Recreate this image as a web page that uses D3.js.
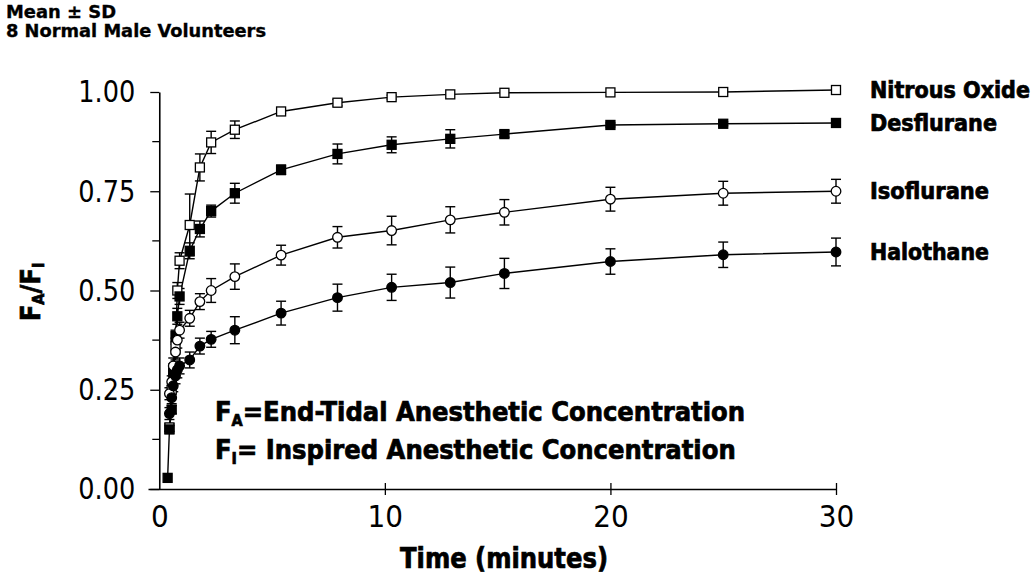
<!DOCTYPE html>
<html>
<head>
<meta charset="utf-8">
<script src="https://cdn.jsdelivr.net/npm/d3@7"></script>
<style>
    body { margin: 0; background: #fff; }
    svg { display: block; }
    .heavy {
        font-family: "Liberation Sans Narrow", "DejaVu Sans Condensed", "Arial Narrow", sans-serif;
        font-weight: bold;
        fill: #000;
        stroke: #000;
        stroke-width: 0.7;
    }
    .tick-label {
        font-family: "Liberation Sans Narrow", "DejaVu Sans Condensed", "Arial Narrow", sans-serif;
        fill: #000;
    }
</style>
</head>
<body>
<svg id="chart"></svg>
<script>
// time in minutes (shared sampling points)
const times = [0.37, 0.45, 0.55, 0.62, 0.72, 0.8, 0.9, 1.35, 1.8, 2.3, 3.35, 5.4, 7.9, 10.3, 12.9, 15.3, 20, 25, 30];

// FA/FI mean and SD per agent (null = no sample)
const nitrousOxide   = [null, 0.155, 0.25, 0.30, 0.36, 0.50, 0.575, 0.665, 0.81, 0.873, 0.905, 0.951, 0.973, 0.987, 0.994, 0.998, 0.999, 1.0, 1.005];
const nitrousOxideSD = [0, 0.01, 0.01, 0.015, 0.02, 0.02, 0.02, 0.078, 0.034, 0.028, 0.022, 0.005, 0.008, 0.005, 0.004, 0.003, 0.003, 0.004, 0.005];
const desflurane     = [0.028, 0.15, 0.20, 0.295, 0.385, 0.435, 0.485, 0.60, 0.655, 0.70, 0.745, 0.804, 0.844, 0.867, 0.882, 0.894, 0.917, 0.92, 0.922];
const desfluraneSD   = [0, 0.01, 0.01, 0.015, 0.015, 0.02, 0.02, 0.02, 0.02, 0.015, 0.025, 0.012, 0.025, 0.02, 0.023, 0.008, 0.005, 0.005, 0.005];
const isoflurane     = [null, 0.24, 0.27, 0.31, 0.345, 0.375, 0.40, 0.43, 0.472, 0.50, 0.535, 0.589, 0.634, 0.651, 0.678, 0.697, 0.730, 0.745, 0.75];
const isofluraneSD   = [0, 0.015, 0.015, 0.02, 0.02, 0.02, 0.02, 0.02, 0.02, 0.03, 0.032, 0.025, 0.027, 0.036, 0.033, 0.032, 0.030, 0.03, 0.03];
const halothane      = [null, 0.19, 0.23, 0.26, 0.285, 0.30, 0.31, 0.325, 0.36, 0.377, 0.40, 0.443, 0.482, 0.508, 0.52, 0.543, 0.573, 0.59, 0.597];
const halothaneSD    = [0, 0.015, 0.015, 0.015, 0.02, 0.02, 0.02, 0.02, 0.02, 0.02, 0.034, 0.03, 0.034, 0.033, 0.039, 0.038, 0.032, 0.032, 0.035];

const seriesNames = ['Nitrous Oxide', 'Desflurane', 'Isoflurane', 'Halothane'];
const xTicks = [0, 10, 20, 30];
const yTicks = [0, 0.25, 0.5, 0.75, 1];
const yTickLabels = ['0.00', '0.25', '0.50', '0.75', '1.00'];

const width = 1035;
const height = 577;

const svg = d3.select('#chart')
    .attr('width', width)
    .attr('height', height);

const x = d3.scaleLinear().domain([-0.5, 30]).range([148, 836]);
const y = d3.scaleLinear().domain([0, 1]).range([489, 92]);

// marker style per agent
const styles = [
    { shape: 'square', fill: '#fff', labelLen: 160 },
    { shape: 'square', fill: '#000', labelLen: 127 },
    { shape: 'circle', fill: '#fff', labelLen: 119 },
    { shape: 'circle', fill: '#000', labelLen: 119 }
];

const valueArrays = [nitrousOxide, desflurane, isoflurane, halothane];
const sdArrays = [nitrousOxideSD, desfluraneSD, isofluraneSD, halothaneSD];

const series = seriesNames.map((name, i) => ({
    name,
    style: styles[i],
    points: times.map((t, j) => ({ t, v: valueArrays[i][j], sd: sdArrays[i][j] }))
        .filter(d => d.v !== null)
}));

// axes
const xAxis = d3.axisBottom(x).tickValues(xTicks).tickSize(6).tickSizeOuter(0).tickFormat(d3.format('d'));
const gx = svg.append('g')
    .attr('transform', `translate(0,${y(0)})`)
    .call(xAxis);
gx.select('.domain').attr('stroke-width', 1.6);
gx.selectAll('.tick line').attr('y1', -6).attr('stroke-width', 1.3);
gx.selectAll('.tick').filter(d => d === 0).select('line').remove();
gx.selectAll('.tick text')
    .attr('class', 'tick-label')
    .attr('y', 16)
    .attr('font-size', 31)
    .attr('dy', '0.71em');

const yAxis = d3.axisLeft(y).tickValues(yTicks).tickSize(9).tickSizeOuter(0)
    .tickFormat((d, i) => yTickLabels[i]);
const gy = svg.append('g')
    .attr('transform', `translate(${x(0)},0)`)
    .call(yAxis);
gy.select('.domain').attr('stroke-width', 1.6);
gy.selectAll('.tick line').attr('stroke-width', 1.3);
gy.selectAll('.tick text')
    .attr('class', 'tick-label')
    .attr('x', -24)
    .attr('font-size', 31)
    .attr('textLength', 57)
    .attr('lengthAdjust', 'spacingAndGlyphs');

// minor y ticks
gy.selectAll('.minor')
    .data(d3.range(0.125, 1, 0.25))
    .enter().append('line')
    .attr('x1', -7).attr('x2', 0)
    .attr('y1', d => y(d)).attr('y2', d => y(d))
    .attr('stroke', '#000').attr('stroke-width', 1.3);

svg.selectAll('.domain, .tick line').attr('stroke', '#000');

// lines
const line = d3.line()
    .x(d => x(d.t))
    .y(d => y(d.v));

svg.append('g').selectAll('path')
    .data(series)
    .enter().append('path')
    .attr('d', d => line(d.points))
    .attr('fill', 'none')
    .attr('stroke', '#000')
    .attr('stroke-width', 1.4);

// error bars
const bars = svg.append('g').attr('stroke', '#000').attr('stroke-width', 1.4);
series.forEach(s => {
    s.points.filter(p => p.sd > 0.004).forEach(p => {
        const cx = x(p.t);
        bars.append('line')
            .attr('x1', cx).attr('x2', cx)
            .attr('y1', y(p.v + p.sd)).attr('y2', y(p.v - p.sd));
        [p.v + p.sd, p.v - p.sd].forEach(v => {
            bars.append('line')
                .attr('x1', cx - 5).attr('x2', cx + 5)
                .attr('y1', y(v)).attr('y2', y(v));
        });
    });
});

// markers
series.forEach(s => {
    const g = svg.append('g');
    if (s.style.shape === 'square') {
        g.selectAll('rect')
            .data(s.points)
            .enter().append('rect')
            .attr('x', d => x(d.t) - 4.5)
            .attr('y', d => y(d.v) - 4.5)
            .attr('width', 9)
            .attr('height', 9)
            .attr('fill', s.style.fill)
            .attr('stroke', '#000')
            .attr('stroke-width', 1.3);
    } else {
        g.selectAll('circle')
            .data(s.points)
            .enter().append('circle')
            .attr('cx', d => x(d.t))
            .attr('cy', d => y(d.v))
            .attr('r', 4.8)
            .attr('fill', s.style.fill)
            .attr('stroke', '#000')
            .attr('stroke-width', 1.3);
    }
});

// series labels at the right end
svg.append('g').selectAll('text')
    .data(series)
    .enter().append('text')
    .attr('class', 'heavy')
    .attr('x', 870)
    .attr('y', d => y(d.points[d.points.length - 1].v) + 8)
    .attr('font-size', 23)
    .attr('textLength', d => d.style.labelLen)
    .attr('lengthAdjust', 'spacingAndGlyphs')
    .text(d => d.name);

// header notes
svg.append('text')
    .attr('class', 'heavy')
    .attr('x', 6).attr('y', 18)
    .attr('font-size', 17)
    .style('stroke-width', 0.3)
    .attr('textLength', 110)
    .attr('lengthAdjust', 'spacingAndGlyphs')
    .text('Mean ± SD');

svg.append('text')
    .attr('class', 'heavy')
    .attr('x', 6).attr('y', 37)
    .attr('font-size', 17)
    .style('stroke-width', 0.3)
    .attr('textLength', 260)
    .attr('lengthAdjust', 'spacingAndGlyphs')
    .text('8 Normal Male Volunteers');

// axis titles
svg.append('text')
    .attr('class', 'heavy')
    .attr('x', 504).attr('y', 568)
    .attr('text-anchor', 'middle')
    .attr('font-size', 28)
    .attr('textLength', 208)
    .attr('lengthAdjust', 'spacingAndGlyphs')
    .text('Time (minutes)');

const yTitle = svg.append('text')
    .attr('class', 'heavy')
    .attr('transform', 'translate(40,292) rotate(-90)')
    .attr('text-anchor', 'middle')
    .attr('font-size', 27);
yTitle.append('tspan').text('F');
yTitle.append('tspan').attr('font-size', 16).attr('dy', 4).text('A');
yTitle.append('tspan').attr('dy', -4).text('/F');
yTitle.append('tspan').attr('font-size', 16).attr('dy', 4).text('I');

// definitions inside the plot
const notes = [
    { sub: 'A', rest: '=End-Tidal Anesthetic Concentration', y: 421 },
    { sub: 'I', rest: '= Inspired Anesthetic Concentration', y: 459 }
];
notes.forEach(n => {
    const t = svg.append('text')
        .attr('class', 'heavy')
        .attr('x', 215).attr('y', n.y)
        .attr('font-size', 27);
    t.append('tspan').text('F');
    t.append('tspan').attr('font-size', 16).attr('dy', 5).text(n.sub);
    t.append('tspan').attr('dy', -5).text(n.rest);
});
</script>
</body>
</html>
